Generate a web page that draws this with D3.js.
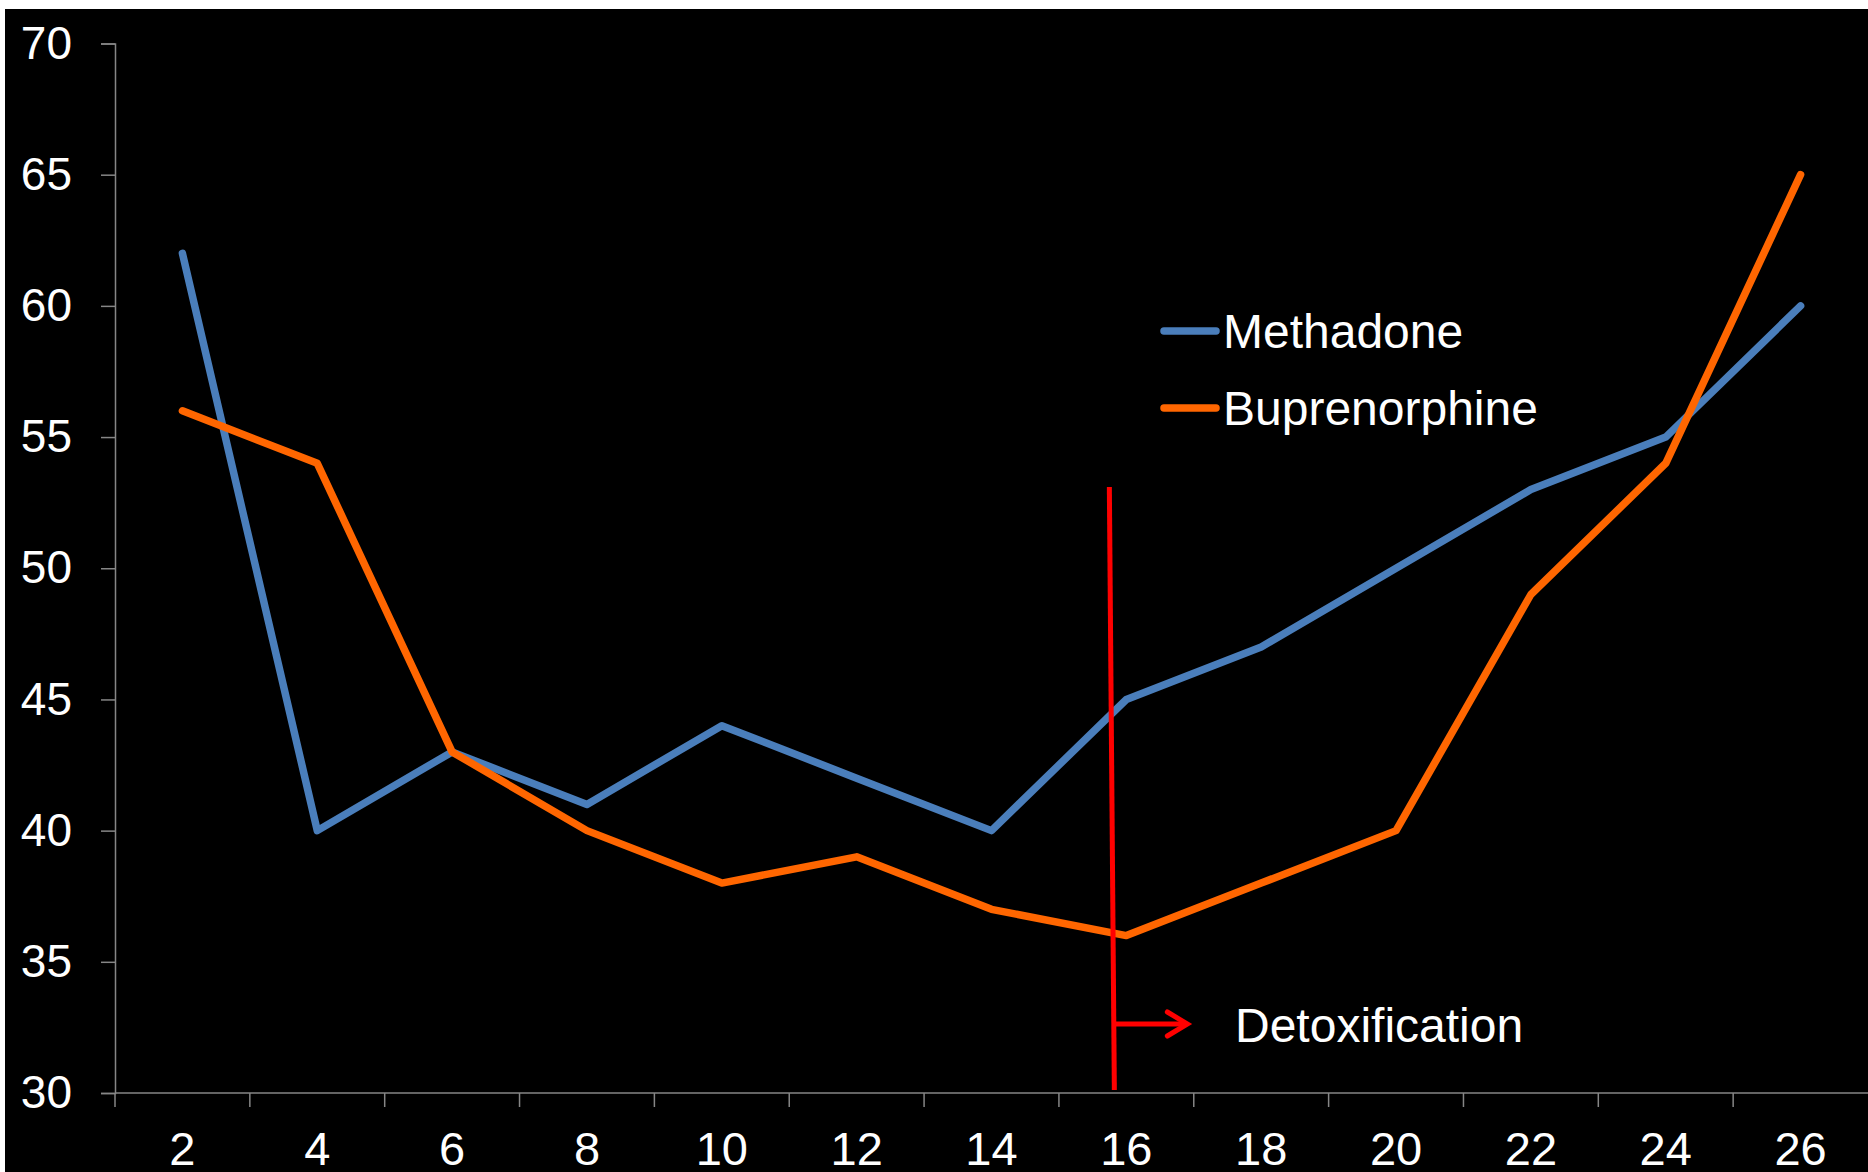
<!DOCTYPE html>
<html>
<head>
<meta charset="utf-8">
<script src="https://cdn.jsdelivr.net/npm/d3@7"></script>
<style>
  body { margin: 0; background: #fff; }
  text { font-family: "Liberation Sans", Arial, sans-serif; fill: #fff; }
</style>
</head>
<body>
<div id="chart"></div>
<script>
// weeks on the x axis
var weeks = [2, 4, 6, 8, 10, 12, 14, 16, 18, 20, 22, 24, 26];
var methadone = [62, 40, 43, 41, 44, 42, 40, 45, 47, 50, 53, 55, 60];
var buprenorphine = [56, 54, 43, 40, 38, 39, 37, 36, 38, 40, 49, 54, 65];
var yTicks = [30, 35, 40, 45, 50, 55, 60, 65, 70];
var seriesNames = ["Methadone", "Buprenorphine"];
var colors = ["#4a7ebb", "#ff6600"];

var W = 1868, H = 1172;
var mLeft = 115, mRight = 1868, mTop = 43.5, mBottom = 1093;

var svg = d3.select("#chart").append("svg")
    .attr("width", W).attr("height", H);

svg.append("rect")
    .attr("x", 5).attr("y", 9)
    .attr("width", W - 5).attr("height", H - 9)
    .attr("fill", "#000");

var x = d3.scaleBand().domain(weeks).range([mLeft, mRight]);
var y = d3.scaleLinear().domain([30, 70]).range([mBottom, mTop]);

// y axis
var gy = svg.append("g")
    .attr("transform", "translate(" + mLeft + ",0)")
    .call(d3.axisLeft(y).tickValues(yTicks).tickSize(14).tickPadding(29));
gy.selectAll("line, path").attr("stroke", "#868686").attr("stroke-width", 1.5);
gy.selectAll("text")
    .style("font-size", "46px").style("fill", "#fff");

// x axis, ticks sit between the categories
var gx = svg.append("g")
    .attr("transform", "translate(0," + mBottom + ")")
    .call(d3.axisBottom(x).tickSize(0).tickPadding(39));
gx.select("path").attr("stroke", "#868686").attr("stroke-width", 1.5).attr("d", "M" + mLeft + ",0H" + mRight);
gx.selectAll("text").style("font-size", "47px").style("fill", "#fff");

gx.selectAll(".sep")
    .data(weeks)
    .enter().append("line")
    .attr("class", "sep")
    .attr("x1", function(d){ return x(d); })
    .attr("x2", function(d){ return x(d); })
    .attr("y1", 0).attr("y2", 14)
    .attr("stroke", "#868686").attr("stroke-width", 1.5);

var line = d3.line()
    .x(function(d, i){ return x(weeks[i]) + x.bandwidth() / 2; })
    .y(function(d){ return y(d); });

[methadone, buprenorphine].forEach(function(s, i) {
    svg.append("path")
        .attr("d", line(s))
        .attr("fill", "none")
        .attr("stroke", colors[i])
        .attr("stroke-width", 7.5)
        .attr("stroke-linecap", "round")
        .attr("stroke-linejoin", "round");
});

// legend
var lg = svg.append("g");
seriesNames.forEach(function(n, i) {
    var ly = 331 + i * 77;
    lg.append("line")
        .attr("x1", 1164).attr("x2", 1216)
        .attr("y1", ly).attr("y2", ly)
        .attr("stroke", colors[i]).attr("stroke-width", 7.5)
        .attr("stroke-linecap", "round");
    lg.append("text")
        .attr("x", 1223).attr("y", ly)
        .attr("dy", "0.35em")
        .style("font-size", "48px")
        .text(n);
});

// detox marker
var cx = x(16) + x.bandwidth() / 2;
svg.append("line")
    .attr("x1", cx - 17).attr("y1", 487)
    .attr("x2", cx - 12).attr("y2", 1090)
    .attr("stroke", "#ff0000").attr("stroke-width", 5);
svg.append("line")
    .attr("x1", cx - 12).attr("y1", 1024)
    .attr("x2", cx + 60).attr("y2", 1024)
    .attr("stroke", "#ff0000").attr("stroke-width", 5);
svg.append("path")
    .attr("d", "M" + (cx + 41) + ",1012L" + (cx + 61) + ",1024L" + (cx + 41) + ",1036")
    .attr("fill", "none")
    .attr("stroke", "#ff0000").attr("stroke-width", 5)
    .attr("stroke-linecap", "round");
svg.append("text")
    .attr("x", 1235).attr("y", 1042)
    .style("font-size", "48px")
    .text("Detoxification");
</script>
</body>
</html>
